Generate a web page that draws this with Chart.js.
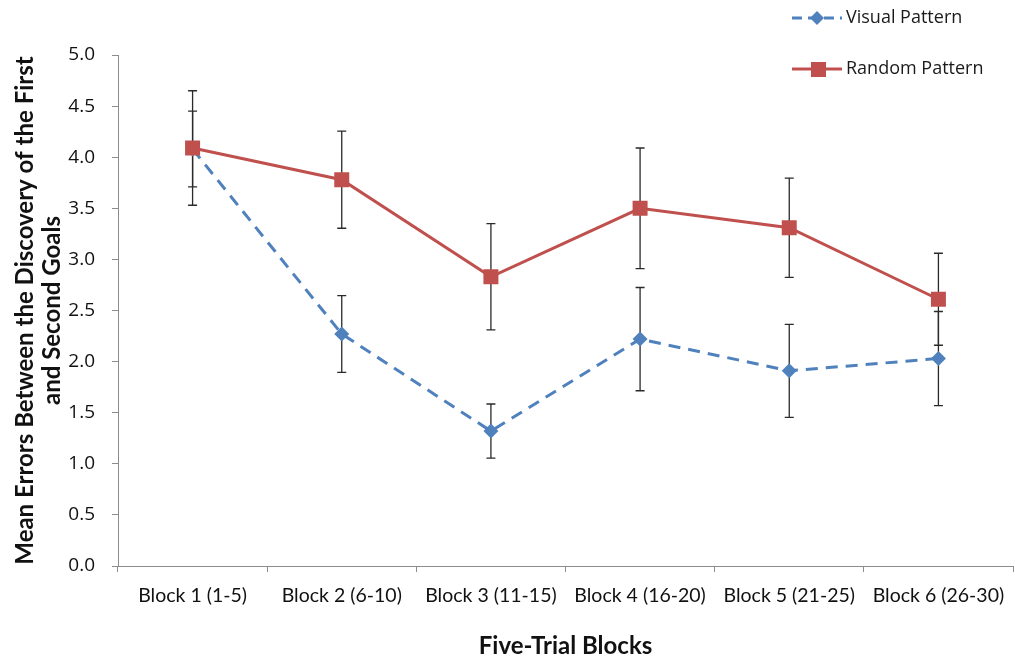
<!DOCTYPE html>
<html>
<head>
<meta charset="utf-8">
<script src="https://cdn.jsdelivr.net/npm/chart.js@4.4.0/dist/chart.umd.min.js"></script>
<style>
  body { margin: 0; background: #fff; }
  #wrap { width: 1015px; height: 662px; position: relative; }
</style>
</head>
<body>
<div id="wrap"><canvas id="myChart"></canvas></div>
<script>
const blocks = ['Block 1 (1-5)', 'Block 2 (6-10)', 'Block 3 (11-15)', 'Block 4 (16-20)', 'Block 5 (21-25)', 'Block 6 (26-30)']
const visualMeans = [4.08, 2.27, 1.32, 2.22, 1.91, 2.03]
const visualErr = [0.37, 0.375, 0.265, 0.505, 0.455, 0.46]
const randomMeans = [4.09, 3.78, 2.83, 3.50, 3.31, 2.61]
const randomErr = [0.56, 0.475, 0.52, 0.59, 0.485, 0.45]
const yTicks = [0, 0.5, 1, 1.5, 2, 2.5, 3, 3.5, 4, 4.5, 5]

const blue = '#4f81bd'
const red = '#c0504d'
const axisGray = '#8c8c8c'

// error bars, drawn under the lines and markers
const errorBars = {
  id: 'errorBars',
  beforeDatasetsDraw(chart) {
    const ctx = chart.ctx
    const y = chart.scales.y
    ctx.save()
    ctx.strokeStyle = '#2a2a2a'
    ctx.lineWidth = 1.3
    chart.data.datasets.forEach((ds, di) => {
      const meta = chart.getDatasetMeta(di)
      meta.data.forEach((pt, i) => {
        const top = y.getPixelForValue(ds.data[i] + ds.errors[i])
        const bot = y.getPixelForValue(ds.data[i] - ds.errors[i])
        ctx.beginPath()
        ctx.moveTo(pt.x, top); ctx.lineTo(pt.x, bot)
        ctx.moveTo(pt.x - 4.5, top); ctx.lineTo(pt.x + 4.5, top)
        ctx.moveTo(pt.x - 4.5, bot); ctx.lineTo(pt.x + 4.5, bot)
        ctx.stroke()
      })
    })
    ctx.restore()
  }
}

// legend like the excel one, top right
const excelLegend = {
  id: 'excelLegend',
  afterDraw(chart) {
    const ctx = chart.ctx
    ctx.save()
    ctx.font = '18px "Open Sans"'
    ctx.textBaseline = 'middle'
    // visual
    ctx.strokeStyle = blue
    ctx.lineWidth = 3
    ctx.setLineDash([10, 6])
    ctx.beginPath(); ctx.moveTo(792, 18); ctx.lineTo(842, 18); ctx.stroke()
    ctx.setLineDash([])
    ctx.fillStyle = blue
    ctx.beginPath()
    ctx.moveTo(817, 11); ctx.lineTo(824, 18); ctx.lineTo(817, 25); ctx.lineTo(810, 18)
    ctx.closePath(); ctx.fill()
    ctx.fillStyle = '#1a1a1a'
    ctx.fillText(chart.data.datasets[0].label, 846, 18)
    // random
    ctx.strokeStyle = red
    ctx.beginPath(); ctx.moveTo(792, 69); ctx.lineTo(842, 69); ctx.stroke()
    ctx.fillStyle = red
    ctx.fillRect(811, 62, 15, 15)
    ctx.fillStyle = '#1a1a1a'
    ctx.fillText(chart.data.datasets[1].label, 846, 69)
    ctx.restore()
  }
}

var ctx = document.getElementById('myChart').getContext('2d')
var myChart = new Chart(ctx, {
  type: 'line',
  data: {
    labels: blocks,
    datasets: [{
      label: 'Visual Pattern',
      data: visualMeans,
      errors: visualErr,
      borderColor: blue,
      backgroundColor: blue,
      borderWidth: 3,
      borderDash: [12, 8],
      pointStyle: 'rectRot',
      pointRadius: 7.5,
      pointBorderWidth: 0,
      tension: 0,
      order: 1
    }, {
      label: 'Random Pattern',
      data: randomMeans,
      errors: randomErr,
      borderColor: red,
      backgroundColor: red,
      borderWidth: 3,
      pointStyle: 'rect',
      pointRadius: 10.6,
      pointBorderWidth: 0,
      tension: 0,
      order: 0
    }]
  },
  options: {
    responsive: true,
    maintainAspectRatio: false,
    animation: false,
    layout: { autoPadding: false, padding: { top: 55, right: 2, left: 0, bottom: 0 } },
    plugins: {
      legend: { display: false },
      tooltip: { enabled: false }
    },
    scales: {
      x: {
        offset: true,
        grid: { drawOnChartArea: false, offset: true, tickLength: 6, color: axisGray },
        border: { color: axisGray, width: 1 },
        ticks: { color: '#111', padding: 12, font: { family: 'Lato', size: 19.5 } },
        title: {
          display: true,
          text: 'Five-Trial Blocks',
          color: '#111',
          font: { family: 'Lato', size: 24, weight: 'bold' },
          padding: { top: 0, bottom: 1 }
        },
        afterFit(scale) {
          scale.height = 96
          scale.paddingLeft = 0
          scale.paddingRight = 0
        }
      },
      y: {
        min: 0,
        max: 5,
        afterBuildTicks(scale) { scale.ticks = yTicks.map(v => ({ value: v })) },
        grid: { drawOnChartArea: false, tickLength: 6, color: axisGray },
        border: { color: axisGray, width: 1 },
        ticks: {
          color: '#111',
          padding: 17,
          font: { family: 'Open Sans', size: 19 },
          callback: (v) => v.toFixed(1)
        },
        title: {
          display: true,
          text: ['Mean Errors Between the Discovery of the First', 'and Second Goals'],
          color: '#111',
          font: { family: 'Lato', size: 24, weight: 'bold', lineHeight: 1.12 },
          padding: { top: 12, bottom: 0 }
        },
        afterFit(scale) { scale.width = 118 }
      }
    }
  },
  plugins: [errorBars, excelLegend]
})
</script>
</body>
</html>
